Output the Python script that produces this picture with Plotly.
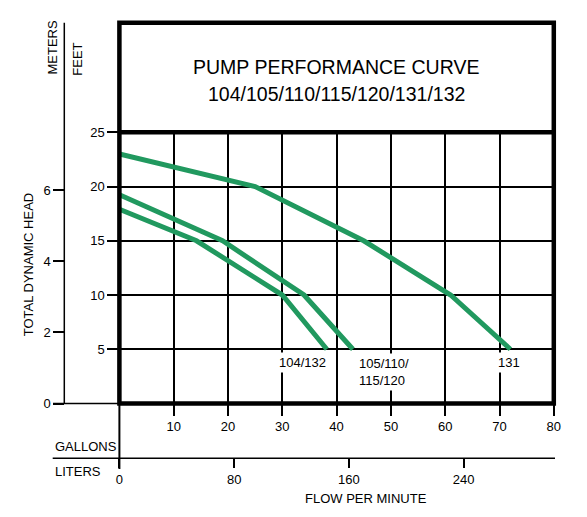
import plotly.graph_objects as go

# ---------------- data ----------------
gal_131 = [0, 25, 45, 61, 72]
ft_131 = [23.0, 20.0, 15.0, 10.0, 5.0]

gal_105 = [0, 19, 34, 43]
ft_105 = [19.25, 15.0, 10.0, 5.0]

gal_104 = [0, 14.2, 30, 38.2]
ft_104 = [17.9, 15.0, 10.0, 5.0]

feet_ticks = [5, 10, 15, 20, 25]
meter_ticks = [0, 2, 4, 6]
gallon_ticks = [10, 20, 30, 40, 50, 60, 70, 80]
liter_ticks = [0, 80, 160, 240]

curve_labels = ["104/132", "105/110/<br>115/120", "131"]
title_line1 = "PUMP PERFORMANCE CURVE"
title_line2 = "104/105/110/115/120/131/132"

FT_PER_M = 3.28084
L_PER_GAL = 3.78541
GAL_MAX, FT_MAX = 80, 25

# ---------------- layout helpers ----------------
W, H = 587, 517
def px(x):
    return x / W
def py(y):
    return 1 - y / H

X0, X1 = 119.4, 553.8   # pixel x of 0 and 80 gallons
Y0, Y1 = 403.5, 132.3   # pixel y of 0 and 25 feet
TOP = 22.8
GREEN = "#21995f"
FONT = "Liberation Sans Narrow, Arial Narrow, Liberation Sans, Arial, sans-serif"
SMALL = 13
tickfont = dict(family=FONT, size=SMALL, color="black")

fig = go.Figure()
for gx, fy in [(gal_131, ft_131), (gal_105, ft_105), (gal_104, ft_104)]:
    fig.add_trace(go.Scatter(x=gx, y=fy, mode="lines",
                             line=dict(color=GREEN, width=5),
                             hoverinfo="skip", showlegend=False,
                             cliponaxis=True))
# trace binding the metric axes
fig.add_trace(go.Scatter(x=[], y=[], xaxis="x2", yaxis="y2", showlegend=False))

fig.update_layout(
    width=W, height=H,
    margin=dict(l=0, r=0, t=0, b=0, pad=0, autoexpand=False),
    showlegend=False,
    paper_bgcolor="white", plot_bgcolor="white",
    xaxis=dict(domain=[px(X0), px(X1)], range=[0, GAL_MAX], automargin=False,
               tickvals=gallon_ticks, ticks="outside", ticklen=11, tickwidth=1.5,
               tickcolor="black", tickfont=tickfont,
               showgrid=True, gridcolor="black", gridwidth=1.5,
               zeroline=False, showline=False, fixedrange=True),
    yaxis=dict(domain=[py(Y0), py(Y1)], range=[0, FT_MAX], automargin=False,
               tickvals=feet_ticks, ticks="outside", ticklen=11, tickwidth=1.5,
               tickcolor="black", tickfont=tickfont,
               showgrid=True, gridcolor="black", gridwidth=1.5,
               zeroline=False, showline=False, fixedrange=True),
    xaxis2=dict(overlaying="x", anchor="free", position=py(458.3), side="bottom",
                automargin=False,
                range=[0, GAL_MAX * L_PER_GAL], tickvals=liter_ticks,
                ticks="outside", ticklen=9, tickwidth=1.5, tickcolor="black",
                tickfont=tickfont, showgrid=False, zeroline=False, showline=False),
    yaxis2=dict(overlaying="y", anchor="free", position=px(64.3), side="left",
                automargin=False,
                range=[0, FT_MAX / FT_PER_M], tickvals=meter_ticks,
                ticks="outside", ticklen=11, tickwidth=1.5, tickcolor="black",
                tickfont=tickfont, showgrid=False, zeroline=False, showline=False),
)

shapes = []
def pline(x0, y0, x1, y1, w):
    shapes.append(dict(type="line", xref="paper", yref="paper",
                       x0=px(x0), y0=py(y0), x1=px(x1), y1=py(y1),
                       line=dict(color="black", width=w)))
# thin axis lines
pline(64.3, TOP, 64.3, Y0, 1.5)       # meters axis
pline(53, Y0, X0, Y0, 1.5)            # meters zero line
pline(52.7, 458.3, 555, 458.3, 1.5)   # liters axis
pline(X0, Y0, X0, 469, 2)             # zero flow line
# thick frame
shapes.append(dict(type="rect", xref="paper", yref="paper",
                   x0=px(X0), y0=py(Y0), x1=px(X1), y1=py(TOP),
                   line=dict(color="black", width=4.5)))
pline(X0, Y1, X1, Y1, 4.5)
fig.update_layout(shapes=shapes)

ann = []
def ptext(text, x, y, size=SMALL, angle=0, xanchor="center"):
    ann.append(dict(text=text, xref="paper", yref="paper", x=px(x), y=py(y),
                    xanchor=xanchor, yanchor="middle", showarrow=False,
                    textangle=angle, font=dict(family=FONT, size=size, color="black")))

ptext(title_line1, 336.5, 66.7, size=19.5)
ptext(title_line2, 336.5, 94.0, size=19.5)
ptext("METERS", 52, 47.5, angle=-90)
ptext("FEET", 78, 59.7, angle=-90)
ptext("TOTAL DYNAMIC HEAD", 28.3, 264, angle=-90)
ptext("GALLONS", 52.5, 446.7, xanchor="left")
ptext("LITERS", 52.5, 471.7, xanchor="left")
ptext("FLOW PER MINUTE", 365.7, 498)

label_pos = [(33.8, 3.74), (48.7, 2.9), (71.7, 3.74)]
for text, (lx, ly) in zip(curve_labels, label_pos):
    ann.append(dict(text=text, xref="x", yref="y", x=lx, y=ly, showarrow=False,
                    align="left", bgcolor="white", borderpad=2,
                    font=dict(family=FONT, size=SMALL, color="black")))
fig.update_layout(annotations=ann)

fig.write_html("out.html")
